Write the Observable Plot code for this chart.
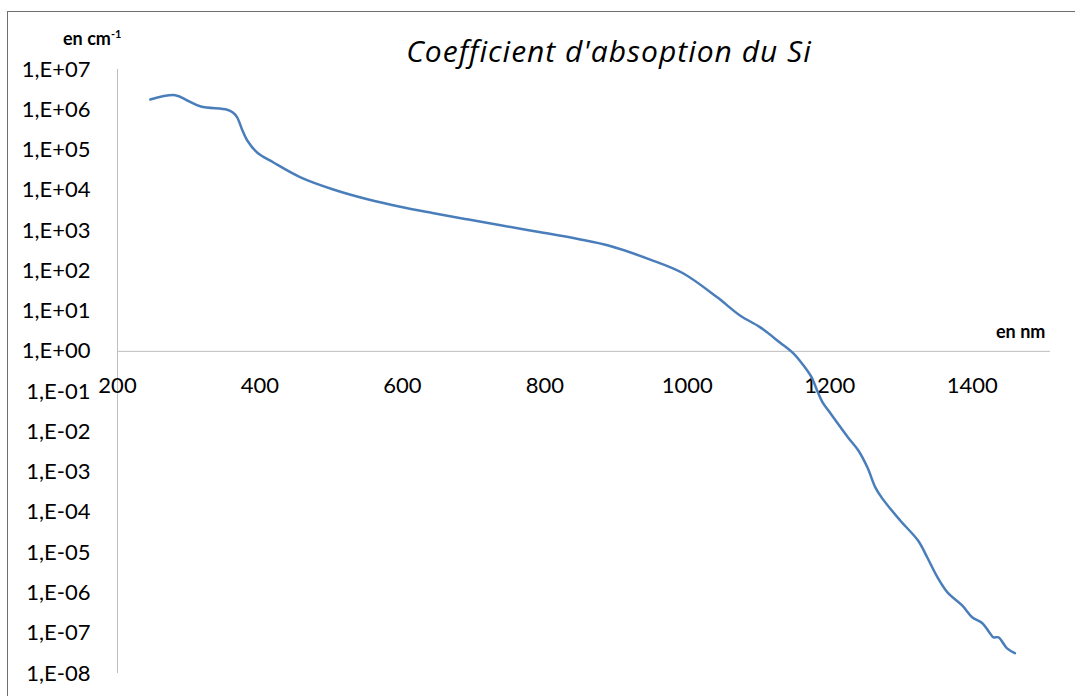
<!DOCTYPE html>
<html>
<head>
<meta charset="utf-8">
<script src="https://cdn.jsdelivr.net/npm/d3@7"></script>
<script src="https://cdn.jsdelivr.net/npm/@observablehq/plot@0.6"></script>
<style>
  html, body { margin: 0; padding: 0; background: #fff; }
  #wrap { position: relative; width: 1075px; height: 696px; overflow: hidden; font-family: Lato, "Open Sans", sans-serif; }
  #frame { position: absolute; left: 7px; top: 11px; width: 1100px; height: 720px; border: 1.5px solid #6f6f6f; box-sizing: border-box; }
  #title { position: absolute; left: 0; width: 1218px; top: 30px; text-align: center; font-family: "Open Sans", sans-serif; font-style: italic; font-size: 30px; letter-spacing: 1px; color: #000; }
  #ylab { position: absolute; left: 63px; top: 27px; font-weight: bold; font-size: 18px; color: #000; }
  #ylab sup { font-size: 11px; vertical-align: 7px; }
  #xlab { position: absolute; left: 996px; top: 320px; font-weight: bold; font-size: 18px; color: #000; }
  #chart { position: absolute; left: 0; top: 0; }
</style>
</head>
<body>
<div id="wrap">
  <div id="frame"></div>
  <div id="chart"></div>
  <div id="title">Coefficient d'absoption du Si</div>
  <div id="ylab">en cm<sup>-1</sup></div>
  <div id="xlab">en nm</div>
</div>
<script>
const wavelength = [246, 281, 298, 317, 354, 362, 368, 375, 382, 396, 419, 457, 503, 551, 597, 644, 691, 738, 794, 850, 888, 948, 994, 1042, 1074, 1102, 1130, 1149, 1163, 1175, 1182, 1190, 1201, 1226, 1240, 1253, 1264, 1274, 1299, 1324, 1337, 1351, 1365, 1386, 1400, 1414, 1425, 1430, 1437, 1449, 1460];
const alpha = [1.8e6, 2.3e6, 1.7e6, 1.2e6, 1.0e6, 8.5e5, 6.5e5, 3.2e5, 1.75e5, 8.7e4, 4.9e4, 2.1e4, 1.05e4, 6.0e3, 3.9e3, 2.7e3, 1.9e3, 1.35e3, 9.1e2, 6.0e2, 4.3e2, 1.9e2, 8.7e1, 2.2e1, 7.8, 4.0, 1.66, 0.89, 0.45, 0.22, 0.11, 0.054, 0.029, 7.2e-3, 3.5e-3, 1.3e-3, 4.2e-4, 2.2e-4, 6.3e-5, 2.0e-5, 7.6e-6, 2.5e-6, 1.05e-6, 4.9e-7, 2.5e-7, 1.8e-7, 1.0e-7, 7.9e-8, 7.9e-8, 4.2e-8, 3.2e-8];
const xTicks = [200, 400, 600, 800, 1000, 1200, 1400];
const yTicks = [1e7, 1e6, 1e5, 1e4, 1e3, 1e2, 1e1, 1e0, 1e-1, 1e-2, 1e-3, 1e-4, 1e-5, 1e-6, 1e-7, 1e-8];

const data = wavelength.map((w, i) => ({w, a: alpha[i]}));
const fmtY = d => {
  const e = Math.round(Math.log10(d));
  return "1,E" + (e < 0 ? "-" : "+") + String(Math.abs(e)).padStart(2, "0");
};

const chart = Plot.plot({
  width: 1075,
  height: 696,
  marginLeft: 117,
  marginRight: 25,
  marginTop: 69,
  marginBottom: 23,
  style: {fontFamily: "Lato, 'Open Sans', sans-serif", background: "transparent"},
  x: {domain: [200, 1510], axis: null},
  y: {type: "log", domain: [1e-8, 1e7], axis: null},
  marks: [
    Plot.ruleX([200], {y1: 1e-8, y2: 1e7, stroke: "#bfbfbf", strokeWidth: 1}),
    Plot.ruleY([1], {x1: 200, x2: 1510, stroke: "#bfbfbf", strokeWidth: 1}),
    Plot.text(yTicks, {x: 200, y: d => d, text: fmtY, textAnchor: "end", dx: -27, fontSize: 22, fill: "#000"}),
    Plot.text(xTicks, {x: d => d, y: 1, text: d => String(d), dy: 35, fontSize: 22, fill: "#000"}),
    Plot.line(data, {x: "w", y: "a", stroke: "#4a7ebb", strokeWidth: 2.5, curve: "catmull-rom"})
  ]
});
document.getElementById("chart").appendChild(chart);
</script>
</body>
</html>
